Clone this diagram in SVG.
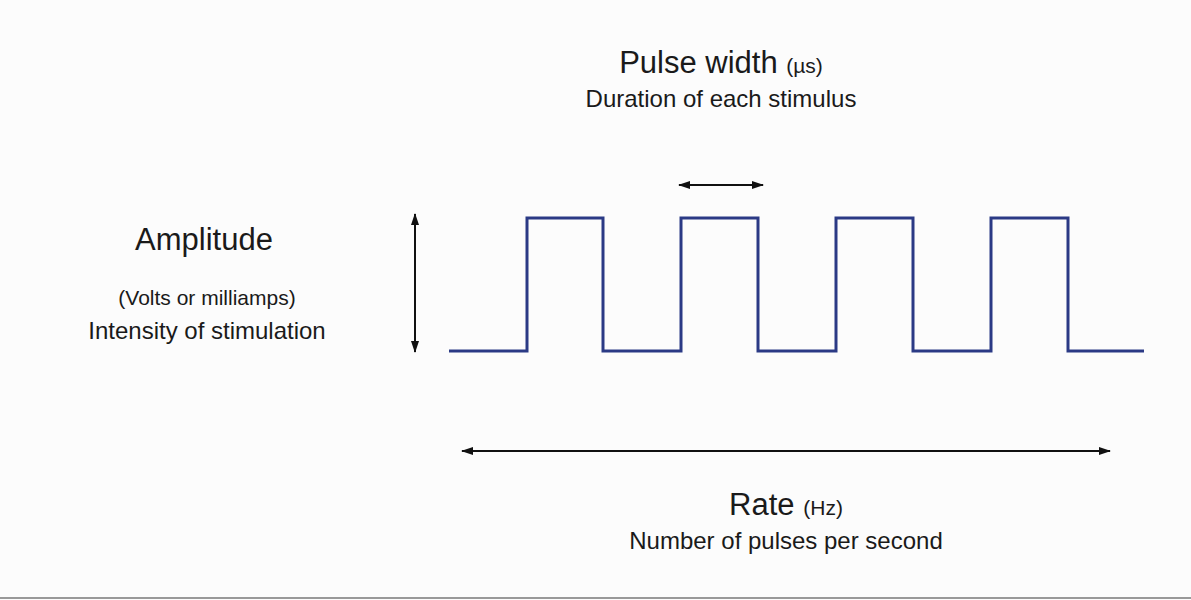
<svg xmlns="http://www.w3.org/2000/svg" width="1191" height="600" viewBox="0 0 1191 600">
<defs>
<marker id="ah" markerWidth="12" markerHeight="8" refX="11" refY="4" orient="auto-start-reverse" markerUnits="userSpaceOnUse"><path d="M0,0 L12,4 L0,8 Z" fill="#111"/></marker>
<style>
text{font-family:"Liberation Sans",Arial,sans-serif;fill:#1a1a1a;text-anchor:middle}
.big{font-size:31px}.mid{font-size:24px}.sm{font-size:21px}
.arr{stroke:#111;stroke-width:2;fill:none}
</style>
</defs>
<rect width="1191" height="600" fill="#fcfcfc"/>
<line x1="0" y1="598" x2="1191" y2="598" stroke="#999" stroke-width="2"/>
<g id="waveform"><polyline points="449,351 527,351 527,218 603,218 603,351 681,351 681,218 758,218 758,351 836,351 836,218 913,218 913,351 991,351 991,218 1068,218 1068,351 1144,351" fill="none" stroke="#2b3a85" stroke-width="3"/></g>
<g id="connectors">
<line class="arr" x1="415" y1="214" x2="415" y2="352" marker-start="url(#ah)" marker-end="url(#ah)"/>
<line class="arr" x1="679" y1="185" x2="763" y2="185" marker-start="url(#ah)" marker-end="url(#ah)"/>
<line class="arr" x1="462" y1="451" x2="1110" y2="451" marker-start="url(#ah)" marker-end="url(#ah)"/>
</g>
<g id="pulsewidth"><text x="721" y="73"><tspan class="big">Pulse width </tspan><tspan class="sm">(µs)</tspan></text><text class="mid" x="721" y="107">Duration of each stimulus</text></g>
<g id="amplitude"><text class="big" x="204" y="250">Amplitude</text><text class="sm" x="207" y="305">(Volts or milliamps)</text><text class="mid" x="207" y="339">Intensity of stimulation</text></g>
<g id="rate"><text x="786" y="515"><tspan class="big">Rate </tspan><tspan class="sm">(Hz)</tspan></text><text class="mid" x="786" y="549">Number of pulses per second</text></g>
</svg>
